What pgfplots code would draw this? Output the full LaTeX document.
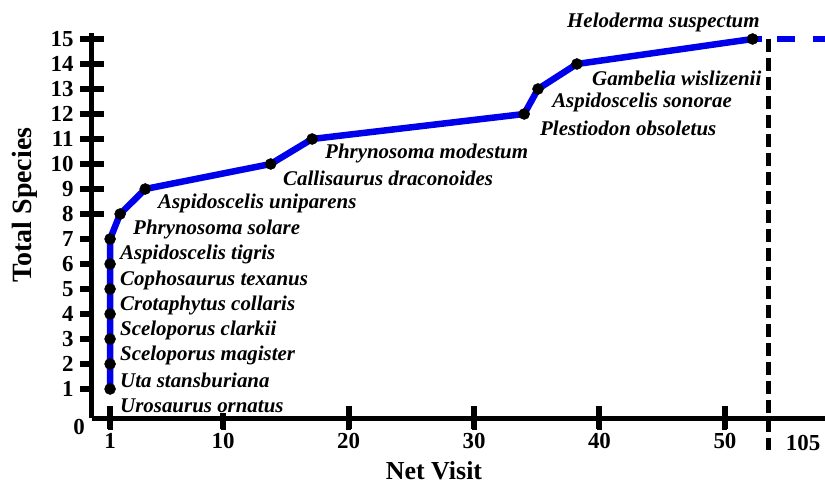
\documentclass[border=0pt]{standalone}
\usepackage{fontspec}
\setmainfont{Liberation Serif}
\usepackage{pgfplots}
\pgfplotsset{compat=1.18}
\definecolor{lineblue}{RGB}{0,0,235}
\newcommand\lbl{\fontsize{21}{21}\selectfont\bfseries\itshape}
\newcommand\tkf{\fontsize{23}{23}\selectfont\bfseries}
\begin{document}
\begin{tikzpicture}
\begin{axis}[name=ax,
 scale only axis, width=733bp, height=385bp,
 xmin=-0.44, xmax=57.97, ymin=-0.16, ymax=15.24,
 axis lines=left, axis line style={-, line width=5bp, black},
 xtick={1,10,20,30,40,50}, ytick={8,...,15},
 tick align=center, major tick length=24bp,
 tick style={line width=5bp, black},
 extra y ticks={1,...,7},
 extra y tick style={major tick length=12bp, ytick align=outside},
 /pgf/number format/assume math mode=true,
 ticklabel style={font=\tkf},
 yticklabel style={xshift=-3bp},
 xlabel={Net Visit}, ylabel={Total Species},
 every axis x label/.style={at={(axis description cs:0.4666,-0.1377)}, anchor=center, font=\fontsize{26}{26}\selectfont\bfseries},
 every axis y label/.style={at={(axis description cs:-0.0911,0.553)}, anchor=center, rotate=90, font=\fontsize{28}{28}\selectfont\bfseries},
 clip=false,
 every node/.append style={text height=0.68em, text depth=0.2em},
]
% heavy tick strokes over the axis ticks
\pgfplotsinvokeforeach{1,10,20,30,40,50}{\draw[line width=6bp, black] (axis cs:#1,-0.16) ++(0bp,12bp) -- ++(0bp,-23bp);}
\pgfplotsinvokeforeach{1,...,7}{\draw[line width=6bp, black] (axis cs:-0.44,#1) ++(-12bp,0bp) -- ++(12bp,0bp);}
\pgfplotsinvokeforeach{8,...,15}{\draw[line width=6bp, black] (axis cs:-0.44,#1) ++(-12bp,0bp) -- ++(24bp,0bp);}
\addplot[black, line width=5bp, dash pattern=on 13bp off 6bp] coordinates {(53.5,15) (53.5,-1.44)};
\addplot[lineblue, line width=6.5bp] coordinates {(52.2,15) (52.95,15)};
\addplot[lineblue, line width=6.5bp, dash pattern=on 18bp off 18bp] coordinates {(54.14,15) (57.97,15)};
\addplot[lineblue, line width=6.5bp, mark=*, mark size=5.5bp, mark options={black, fill=black, line width=0.5bp}] coordinates {
(1,1) (1,2) (1,3) (1,4) (1,5) (1,6) (1,7) (1.8,8) (3.8,9) (13.8,10) (17.1,11) (34,12) (35.1,13) (38.2,14) (52.2,15)};
\tikzset{lb/.style={anchor=west, inner sep=0, fill=white, font=\lbl}}
\node[lb] at (axis cs:1.79,0.32) {Urosaurus ornatus};
\node[lb] at (axis cs:1.79,1.36) {Uta stansburiana};
\node[lb] at (axis cs:1.79,2.36) {Sceloporus magister};
\node[lb] at (axis cs:1.79,3.36) {Sceloporus clarkii};
\node[lb] at (axis cs:1.79,4.32) {Crotaphytus collaris};
\node[lb] at (axis cs:1.79,5.36) {Cophosaurus texanus};
\node[lb] at (axis cs:1.79,6.40) {Aspidoscelis tigris};
\node[lb] at (axis cs:2.83,7.36) {Phrynosoma solare};
\node[lb] at (axis cs:4.82,8.44) {Aspidoscelis uniparens};
\node[lb] at (axis cs:14.78,9.44) {Callisaurus draconoides};
\node[lb] at (axis cs:18.13,10.40) {Phrynosoma modestum};
\node[lb] at (axis cs:35.26,11.44) {Plestiodon obsoletus};
\node[lb] at (axis cs:36.22,12.48) {Aspidoscelis sonorae};
\node[lb] at (axis cs:39.40,13.44) {Gambelia wislizenii};
\node[lb] at (axis cs:37.41,15.68) {Heloderma suspectum};
\node[inner sep=0, font=\tkf] at (axis cs:-1.47,-0.52) {0};
\node[inner sep=0, font=\tkf] at (axis cs:56.22,-1.16) {105};
\end{axis}
\pgfresetboundingbox
\path ([shift={(-92bp,-68bp)}]ax.south west) rectangle ([shift={(0bp,33bp)}]ax.north east);
\end{tikzpicture}
\end{document}
